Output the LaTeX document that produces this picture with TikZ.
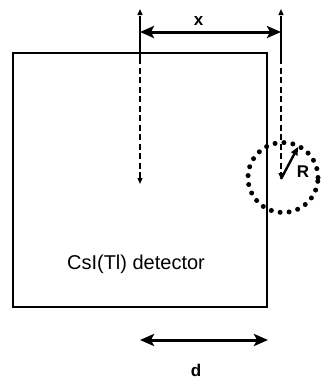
\documentclass[tikz,border=0pt]{standalone}
\usepackage{fontspec}
\setmainfont{Liberation Sans}
\usepackage{tikz}
\usetikzlibrary{positioning}
\usetikzlibrary{calc}
\usetikzlibrary{arrows.meta}

\begin{document}
\begin{tikzpicture}[
x=1pt, y=-1pt,
detbox/.style={
    rectangle,
    draw=black,
    line width=2pt,
    minimum width=254pt,
    minimum height=254.5pt,
    inner sep=0pt, % No inner spacing
},
guide/.style={
    dash pattern=on 6pt off 3.5pt,
    line width=1.2pt,
    -{Triangle[length=6pt,width=5pt]},
},
dimarrow/.style={
    line width=3pt,
    {Stealth[length=14pt,width=12pt,inset=3pt]}-{Stealth[length=14pt,width=12pt,inset=3pt]},
},
boldlabel/.style={
    font=\bfseries\fontsize{17}{17}\selectfont,
    inner sep=0pt,
},
]
\useasboundingbox (0,0) rectangle (321,380);

\node[detbox] (det) at (139.6,180.2) {};
\node[font=\fontsize{20}{22}\selectfont, anchor=base] (name) at (136,269) {CsI(Tl) detector};

\coordinate (top1) at (140,9);
\coordinate (bot1) at (140,184);
\coordinate (top2) at (281,9);
\coordinate (bot2) at (281,179);

\draw[guide] (140,60) -- (top1);
\draw[guide] (140,20) -- (bot1);
\draw[guide] (281,60) -- (top2);
\draw[guide] (281,20) -- (bot2);

\coordinate (xl) at (140,32);
\coordinate (xr) at (281,32);
\draw[dimarrow] (xl) -- (xr);
\node[boldlabel] (xlab) at (198.5,21) {x};

\node[circle, draw, line width=5pt, dash pattern=on 0pt off 9pt, line cap=round, minimum size=70pt, inner sep=0pt] (rcirc) at (283,177.5) {};
\coordinate (rtip) at (298,147);
\draw[line width=2.4pt, -{Triangle[length=8pt,width=7pt]}] (bot2) -- (rtip);
\node[boldlabel] (rlab) at (303,172) {R};

\coordinate (dl) at (140,340);
\coordinate (dr) at (268,340);
\draw[dimarrow] (dl) -- (dr);
\node[boldlabel] (dlab) at (196,370) {d};

\end{tikzpicture}
\end{document}
